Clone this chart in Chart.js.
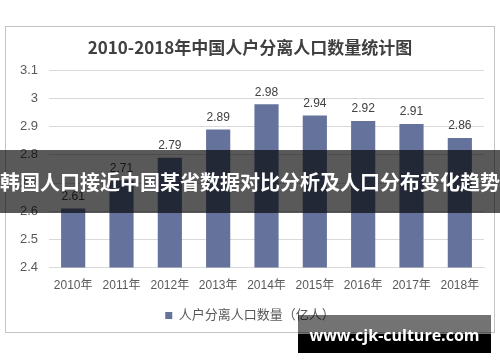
<!DOCTYPE html>
<html>
<head>
<meta charset="utf-8">
<script src="https://cdn.jsdelivr.net/npm/chart.js@4"></script>
<style>
  html, body { margin: 0; padding: 0; background: #ffffff; }
  #wrap { position: relative; width: 500px; height: 362px; overflow: hidden; background: #fff; }
  #frame { position: absolute; left: 5px; top: 26px; width: 488px; height: 305px; border: 1px solid #c4c4c4; box-sizing: content-box; }
  #c { position: absolute; left: 0; top: 0; }
  #banner { position: absolute; left: 0; top: 150px; width: 500px; height: 63px; background: rgba(0,0,0,0.65);
            color: #fff; font: bold 20px 'Noto Sans CJK SC', sans-serif; line-height: 63px; text-align: center; white-space: nowrap; }
  #wm { position: absolute; left: 298px; top: 315px; width: 193px; height: 38px;
        background: linear-gradient(to bottom, rgba(0,0,0,0.55) 0px, rgba(0,0,0,0.55) 19px, #000 19px, #000 38px);
        color: #fff; font: bold 16px 'Open Sans', sans-serif; line-height: 40px; text-align: center; white-space: nowrap; }
</style>
</head>
<body>
<div id="wrap">
  <div id="frame"></div>
  <canvas id="c" width="500" height="362"></canvas>
  <div id="banner">韩国人口接近中国某省数据对比分析及人口分布变化趋势</div>
  <div id="wm">www.cjk-culture.com</div>
</div>
<script>
const categories = ['2010年','2011年','2012年','2013年','2014年','2015年','2016年','2017年','2018年'];
const values = [2.61, 2.71, 2.79, 2.89, 2.98, 2.94, 2.92, 2.91, 2.86];
const seriesName = '人户分离人口数量（亿人）';
const chartTitle = '2010-2018年中国人户分离人口数量统计图';
const yMin = 2.4, yMax = 3.1, yStep = 0.1;

const FONT = "'Liberation Sans', 'Noto Sans CJK SC', sans-serif";

const dataLabels = {
  id: 'dataLabels',
  afterDatasetsDraw(chart) {
    const ctx = chart.ctx;
    const meta = chart.getDatasetMeta(0);
    ctx.save();
    ctx.font = '12px ' + FONT;
    ctx.fillStyle = '#404040';
    ctx.textAlign = 'center';
    ctx.textBaseline = 'middle';
    meta.data.forEach((bar, i) => {
      ctx.fillText(String(values[i]), bar.x, bar.y - 12);
    });
    ctx.restore();
  }
};

new Chart(document.getElementById('c'), {
  type: 'bar',
  data: {
    labels: categories,
    datasets: [{
      label: seriesName,
      data: values,
      backgroundColor: '#65729c',
      borderWidth: 0,
      barPercentage: 0.5,
      categoryPercentage: 1.0
    }]
  },
  options: {
    responsive: false,
    animation: false,
    devicePixelRatio: 1,
    layout: { padding: { left: 16, right: 16, top: 26, bottom: 30 } },
    plugins: {
      title: {
        display: true, text: chartTitle, color: '#404040',
        font: { family: "'Noto Sans CJK SC', sans-serif", size: 17, weight: 'bold' },
        padding: { top: 11, bottom: 13 }
      },
      legend: {
        display: true, position: 'bottom',
        labels: {
          color: '#595959', font: { family: FONT, size: 13 },
          usePointStyle: true, pointStyle: 'rect', boxWidth: 7, boxHeight: 7, padding: 5
        }
      },
      tooltip: { enabled: false }
    },
    scales: {
      x: {
        grid: { display: false, drawTicks: false },
        border: { display: true, color: '#d9d9d9' },
        ticks: { color: '#595959', font: { family: FONT, size: 12 }, padding: 11, maxRotation: 0, autoSkip: false }
      },
      y: {
        min: yMin, max: yMax,
        afterFit(scale) { scale.width = 33; },
        grid: { color: '#d9d9d9', drawTicks: false },
        border: { display: false },
        ticks: {
          stepSize: yStep, color: '#595959', font: { family: FONT, size: 13 }, padding: 11,
          callback: v => String(Math.round(v * 10) / 10)
        }
      }
    }
  },
  plugins: [dataLabels]
});
</script>
</body>
</html>
